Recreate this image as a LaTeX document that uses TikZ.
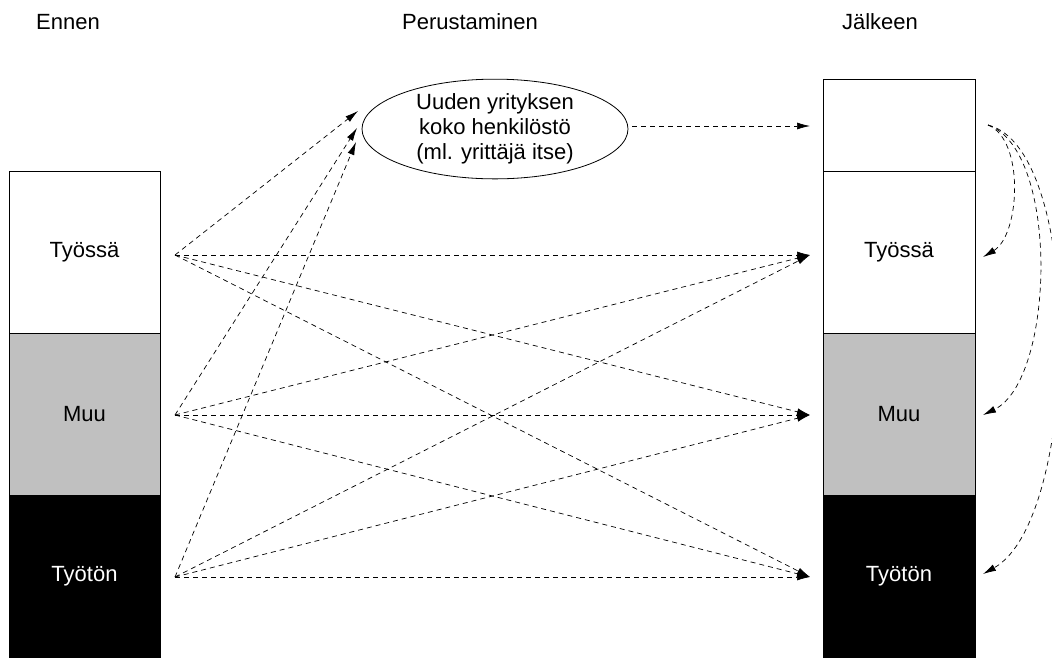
\documentclass[tikz,border=0pt]{standalone}
\usepackage{fontspec}
\setmainfont{Liberation Sans}
\usetikzlibrary{arrows.meta, positioning, shapes.geometric}
\definecolor{muugray}{RGB}{192,192,192}
\tikzset{%
	cell/.style={
		draw,
		line width=0.8pt,
		minimum width=151pt,
		minimum height=162pt,
		inner sep=0pt,
		outer sep=0pt
	},
	flow/.style={
		line width=0.7pt,
		dash pattern=on 5pt off 4pt,
		-{Latex[length=13pt,width=7pt]}
	},
}
\begin{document}
\begin{tikzpicture}[x=1pt, y=-1pt, font=\fontsize{22}{25}\selectfont]
			\useasboundingbox (0,0) rectangle (1052,657);
			\clip (0,0) rectangle (1052,657);
			
			% Draw the headings
			\node (ennen) at (68,22) {Ennen};
			\node (perust) at (470,22) {Perustaminen};
			\node (jalkeen) at (880,22) {Jälkeen};
			
			% Draw the left column
			\node[cell] (ltyo) at (84.5,252) {Työssä};
			\node[cell, fill=muugray, below=0pt of ltyo] (lmuu) {Muu};
			\node[cell, fill=black, text=white, below=0pt of lmuu] (ltyoton) {Työtön};
			
			% Draw the right column
			\node[cell, minimum width=152pt] (rtyo) at (899,252) {Työssä};
			\node[cell, minimum width=152pt, minimum height=92pt, above=0pt of rtyo] (ruusi) {};
			\node[cell, minimum width=152pt, fill=muugray, below=0pt of rtyo] (rmuu) {Muu};
			\node[cell, minimum width=152pt, fill=black, text=white, below=0pt of rmuu] (rtyoton) {Työtön};
			
			% Draw the ellipse
			\node[ellipse, draw, line width=0.8pt, minimum width=266pt, minimum height=94pt, inner sep=0pt, align=center] (uusi) at (495,129) {Uuden yrityksen\\koko henkilöstö\\(ml. yrittäjä itse)};
			
			% Ends of the flows
			\coordinate (ltyo out) at (175,255);
			\coordinate (lmuu out) at (175,415);
			\coordinate (ltyoton out) at (175,577);
			\coordinate (rtyo in) at (810,255);
			\coordinate (rmuu in) at (810,415);
			\coordinate (rtyoton in) at (810,577);
			\coordinate (uusi in1) at (358,111);
			\coordinate (uusi in2) at (357,128);
			\coordinate (uusi in3) at (356,142);
			\coordinate (uusi out) at (632,126);
			\coordinate (ruusi in) at (810,126);
			\coordinate (ruusi out) at (988,125);
			\coordinate (rtyo back) at (983,257);
			\coordinate (rmuu back) at (983,415);
			\coordinate (rtyoton back) at (983,574);
			
			% Draw the flows into the new firm
			\draw[flow] (ltyo out) -- (uusi in1);
			\draw[flow] (lmuu out) -- (uusi in2);
			\draw[flow] (ltyoton out) -- (uusi in3);
			\draw[flow] (uusi out) -- (ruusi in);
			
			% Draw the flows from before to after
			\draw[flow] (ltyo out) -- (rtyo in);
			\draw[flow] (ltyo out) -- (rmuu in);
			\draw[flow] (ltyo out) -- (rtyoton in);
			\draw[flow] (lmuu out) -- (rtyo in);
			\draw[flow] (lmuu out) -- (rmuu in);
			\draw[flow] (lmuu out) -- (rtyoton in);
			\draw[flow] (ltyoton out) -- (rtyo in);
			\draw[flow] (ltyoton out) -- (rmuu in);
			\draw[flow] (ltyoton out) -- (rtyoton in);
			
			% Draw the curved flows on the right
			\draw[flow] (ruusi out) .. controls (1025,140) and (1020,235) .. (rtyo back);
			\draw[flow] (ruusi out) .. controls (1060,150) and (1055,380) .. (rmuu back);
			\draw[flow] (ruusi out) .. controls (1086,150) and (1080,520) .. (rtyoton back);
		\end{tikzpicture}
\end{document}
